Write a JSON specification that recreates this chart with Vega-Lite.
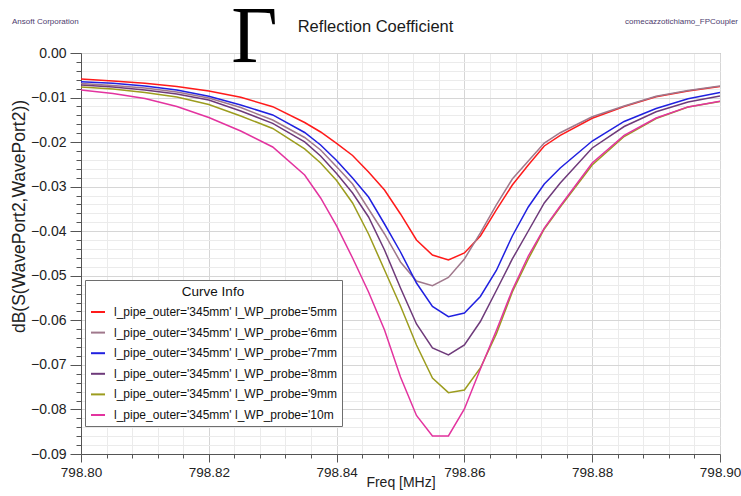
{
  "$schema": "https://vega.github.io/schema/vega-lite/v6.json",
  "autosize": {"type": "none"},
  "padding": {"left": 81, "top": 53, "right": 21, "bottom": 42},
  "width": 639,
  "height": 401,
  "background": "white",
  "config": {
    "view": {"stroke": "#8a8a8a", "strokeWidth": 1},
    "font": "Liberation Sans"
  },
  "resolve": {"axis": {"x": "independent", "y": "independent"}},
  "layer": [
    {
      "data": {
        "values": [
          {"f":798.8,"v":-0.00583,"s":"5mm"},{"f":798.805,"v":-0.00628,"s":"5mm"},{"f":798.81,"v":-0.0068,"s":"5mm"},{"f":798.815,"v":-0.00752,"s":"5mm"},{"f":798.82,"v":-0.00853,"s":"5mm"},{"f":798.825,"v":-0.00994,"s":"5mm"},{"f":798.83,"v":-0.01205,"s":"5mm"},{"f":798.835,"v":-0.0156,"s":"5mm"},{"f":798.8375,"v":-0.01773,"s":"5mm"},{"f":798.84,"v":-0.02027,"s":"5mm"},{"f":798.8425,"v":-0.023,"s":"5mm"},{"f":798.845,"v":-0.0267,"s":"5mm"},{"f":798.8475,"v":-0.03075,"s":"5mm"},{"f":798.85,"v":-0.03613,"s":"5mm"},{"f":798.8525,"v":-0.04196,"s":"5mm"},{"f":798.855,"v":-0.04533,"s":"5mm"},{"f":798.8575,"v":-0.04645,"s":"5mm"},{"f":798.86,"v":-0.04488,"s":"5mm"},{"f":798.8625,"v":-0.04107,"s":"5mm"},{"f":798.865,"v":-0.03523,"s":"5mm"},{"f":798.8675,"v":-0.02962,"s":"5mm"},{"f":798.87,"v":-0.02513,"s":"5mm"},{"f":798.8725,"v":-0.02087,"s":"5mm"},{"f":798.875,"v":-0.01847,"s":"5mm"},{"f":798.88,"v":-0.01465,"s":"5mm"},{"f":798.885,"v":-0.01201,"s":"5mm"},{"f":798.89,"v":-0.00981,"s":"5mm"},{"f":798.895,"v":-0.00853,"s":"5mm"},{"f":798.9,"v":-0.00752,"s":"5mm"},
          {"f":798.8,"v":-0.00684,"s":"6mm"},{"f":798.805,"v":-0.00729,"s":"6mm"},{"f":798.81,"v":-0.00785,"s":"6mm"},{"f":798.815,"v":-0.00875,"s":"6mm"},{"f":798.82,"v":-0.0101,"s":"6mm"},{"f":798.825,"v":-0.01223,"s":"6mm"},{"f":798.83,"v":-0.01504,"s":"6mm"},{"f":798.835,"v":-0.01896,"s":"6mm"},{"f":798.8375,"v":-0.02177,"s":"6mm"},{"f":798.84,"v":-0.02552,"s":"6mm"},{"f":798.8425,"v":-0.0294,"s":"6mm"},{"f":798.845,"v":-0.03501,"s":"6mm"},{"f":798.8475,"v":-0.04062,"s":"6mm"},{"f":798.85,"v":-0.0469,"s":"6mm"},{"f":798.8525,"v":-0.05117,"s":"6mm"},{"f":798.855,"v":-0.05222,"s":"6mm"},{"f":798.8575,"v":-0.05038,"s":"6mm"},{"f":798.86,"v":-0.04623,"s":"6mm"},{"f":798.8625,"v":-0.04039,"s":"6mm"},{"f":798.865,"v":-0.03411,"s":"6mm"},{"f":798.8675,"v":-0.02828,"s":"6mm"},{"f":798.87,"v":-0.02424,"s":"6mm"},{"f":798.8725,"v":-0.0202,"s":"6mm"},{"f":798.875,"v":-0.01789,"s":"6mm"},{"f":798.88,"v":-0.0143,"s":"6mm"},{"f":798.885,"v":-0.0119,"s":"6mm"},{"f":798.89,"v":-0.0097,"s":"6mm"},{"f":798.895,"v":-0.0084,"s":"6mm"},{"f":798.9,"v":-0.0074,"s":"6mm"},
          {"f":798.8,"v":-0.00643,"s":"7mm"},{"f":798.805,"v":-0.0068,"s":"7mm"},{"f":798.81,"v":-0.0074,"s":"7mm"},{"f":798.815,"v":-0.0083,"s":"7mm"},{"f":798.82,"v":-0.00971,"s":"7mm"},{"f":798.825,"v":-0.01167,"s":"7mm"},{"f":798.83,"v":-0.0139,"s":"7mm"},{"f":798.835,"v":-0.01784,"s":"7mm"},{"f":798.8375,"v":-0.02065,"s":"7mm"},{"f":798.84,"v":-0.02413,"s":"7mm"},{"f":798.8425,"v":-0.02806,"s":"7mm"},{"f":798.845,"v":-0.03232,"s":"7mm"},{"f":798.8475,"v":-0.03838,"s":"7mm"},{"f":798.85,"v":-0.04466,"s":"7mm"},{"f":798.8525,"v":-0.05162,"s":"7mm"},{"f":798.855,"v":-0.05689,"s":"7mm"},{"f":798.8575,"v":-0.05918,"s":"7mm"},{"f":798.86,"v":-0.05835,"s":"7mm"},{"f":798.8625,"v":-0.05465,"s":"7mm"},{"f":798.865,"v":-0.04881,"s":"7mm"},{"f":798.8675,"v":-0.04107,"s":"7mm"},{"f":798.87,"v":-0.03456,"s":"7mm"},{"f":798.8725,"v":-0.0294,"s":"7mm"},{"f":798.875,"v":-0.02581,"s":"7mm"},{"f":798.88,"v":-0.01975,"s":"7mm"},{"f":798.885,"v":-0.01537,"s":"7mm"},{"f":798.89,"v":-0.01245,"s":"7mm"},{"f":798.895,"v":-0.01028,"s":"7mm"},{"f":798.9,"v":-0.00886,"s":"7mm"},
          {"f":798.8,"v":-0.00718,"s":"8mm"},{"f":798.805,"v":-0.00763,"s":"8mm"},{"f":798.81,"v":-0.0083,"s":"8mm"},{"f":798.815,"v":-0.0092,"s":"8mm"},{"f":798.82,"v":-0.01055,"s":"8mm"},{"f":798.825,"v":-0.01302,"s":"8mm"},{"f":798.83,"v":-0.01578,"s":"8mm"},{"f":798.835,"v":-0.01997,"s":"8mm"},{"f":798.8375,"v":-0.02312,"s":"8mm"},{"f":798.84,"v":-0.02704,"s":"8mm"},{"f":798.8425,"v":-0.03142,"s":"8mm"},{"f":798.845,"v":-0.0368,"s":"8mm"},{"f":798.8475,"v":-0.04421,"s":"8mm"},{"f":798.85,"v":-0.05274,"s":"8mm"},{"f":798.8525,"v":-0.06082,"s":"8mm"},{"f":798.855,"v":-0.0662,"s":"8mm"},{"f":798.8575,"v":-0.06777,"s":"8mm"},{"f":798.86,"v":-0.06553,"s":"8mm"},{"f":798.8625,"v":-0.06026,"s":"8mm"},{"f":798.865,"v":-0.0533,"s":"8mm"},{"f":798.8675,"v":-0.04623,"s":"8mm"},{"f":798.87,"v":-0.03995,"s":"8mm"},{"f":798.8725,"v":-0.03366,"s":"8mm"},{"f":798.875,"v":-0.02918,"s":"8mm"},{"f":798.88,"v":-0.02132,"s":"8mm"},{"f":798.885,"v":-0.0165,"s":"8mm"},{"f":798.89,"v":-0.0132,"s":"8mm"},{"f":798.895,"v":-0.011,"s":"8mm"},{"f":798.9,"v":-0.00965,"s":"8mm"},
          {"f":798.8,"v":-0.00763,"s":"9mm"},{"f":798.805,"v":-0.00808,"s":"9mm"},{"f":798.81,"v":-0.00886,"s":"9mm"},{"f":798.815,"v":-0.00987,"s":"9mm"},{"f":798.82,"v":-0.01156,"s":"9mm"},{"f":798.825,"v":-0.01414,"s":"9mm"},{"f":798.83,"v":-0.01694,"s":"9mm"},{"f":798.835,"v":-0.02154,"s":"9mm"},{"f":798.8375,"v":-0.02469,"s":"9mm"},{"f":798.84,"v":-0.02861,"s":"9mm"},{"f":798.8425,"v":-0.03366,"s":"9mm"},{"f":798.845,"v":-0.04062,"s":"9mm"},{"f":798.8475,"v":-0.0487,"s":"9mm"},{"f":798.85,"v":-0.05678,"s":"9mm"},{"f":798.8525,"v":-0.06553,"s":"9mm"},{"f":798.855,"v":-0.07294,"s":"9mm"},{"f":798.8575,"v":-0.07623,"s":"9mm"},{"f":798.86,"v":-0.07563,"s":"9mm"},{"f":798.8625,"v":-0.07069,"s":"9mm"},{"f":798.865,"v":-0.06306,"s":"9mm"},{"f":798.8675,"v":-0.05364,"s":"9mm"},{"f":798.87,"v":-0.04623,"s":"9mm"},{"f":798.8725,"v":-0.0395,"s":"9mm"},{"f":798.875,"v":-0.03456,"s":"9mm"},{"f":798.88,"v":-0.02513,"s":"9mm"},{"f":798.885,"v":-0.01874,"s":"9mm"},{"f":798.89,"v":-0.0147,"s":"9mm"},{"f":798.895,"v":-0.01212,"s":"9mm"},{"f":798.9,"v":-0.01088,"s":"9mm"},
          {"f":798.8,"v":-0.0083,"s":"10mm"},{"f":798.805,"v":-0.00909,"s":"10mm"},{"f":798.81,"v":-0.01021,"s":"10mm"},{"f":798.815,"v":-0.01201,"s":"10mm"},{"f":798.82,"v":-0.01448,"s":"10mm"},{"f":798.825,"v":-0.0175,"s":"10mm"},{"f":798.83,"v":-0.02109,"s":"10mm"},{"f":798.835,"v":-0.02738,"s":"10mm"},{"f":798.8375,"v":-0.03254,"s":"10mm"},{"f":798.84,"v":-0.03882,"s":"10mm"},{"f":798.8425,"v":-0.04601,"s":"10mm"},{"f":798.845,"v":-0.05364,"s":"10mm"},{"f":798.8475,"v":-0.06217,"s":"10mm"},{"f":798.85,"v":-0.07271,"s":"10mm"},{"f":798.8525,"v":-0.08135,"s":"10mm"},{"f":798.855,"v":-0.08595,"s":"10mm"},{"f":798.8575,"v":-0.08595,"s":"10mm"},{"f":798.86,"v":-0.07989,"s":"10mm"},{"f":798.8625,"v":-0.07092,"s":"10mm"},{"f":798.865,"v":-0.06228,"s":"10mm"},{"f":798.8675,"v":-0.05319,"s":"10mm"},{"f":798.87,"v":-0.04556,"s":"10mm"},{"f":798.8725,"v":-0.0393,"s":"10mm"},{"f":798.875,"v":-0.03434,"s":"10mm"},{"f":798.88,"v":-0.02469,"s":"10mm"},{"f":798.885,"v":-0.0185,"s":"10mm"},{"f":798.89,"v":-0.0146,"s":"10mm"},{"f":798.895,"v":-0.0121,"s":"10mm"},{"f":798.9,"v":-0.0108,"s":"10mm"}
        ]
      },
      "mark": {"type": "line", "strokeWidth": 1.5, "clip": true},
      "encoding": {
        "x": {
          "field": "f", "type": "quantitative",
          "scale": {"domain": [798.8, 798.9], "nice": false, "zero": false},
          "axis": {
            "orient": "bottom",
            "values": [798.8, 798.804, 798.808, 798.812, 798.816, 798.82, 798.824, 798.828, 798.832, 798.836, 798.84, 798.844, 798.848, 798.852, 798.856, 798.86, 798.864, 798.868, 798.872, 798.876, 798.88, 798.884, 798.888, 798.892, 798.896, 798.9],
            "labelExpr": "abs(datum.value*50 - round(datum.value*50)) < 0.01 ? format(datum.value, '.2f') : ''",
            "labelOverlap": false,
            "labelFlush": false,
            "labelFont": "Liberation Sans",
            "labelFontSize": 13.5,
            "labelColor": "#222222",
            "labelPadding": 3,
            "tickSize": {"condition": {"test": "abs(datum.value*50 - round(datum.value*50)) < 0.01", "value": 8}, "value": 4},
            "tickColor": "#555555",
            "domainColor": "#555555",
            "gridColor": {"condition": {"test": "abs(datum.value*50 - round(datum.value*50)) < 0.01", "value": "#d6d6d6"}, "value": "#ebebeb"},
            "title": "Freq [MHz]",
            "titleFont": "Liberation Sans",
            "titleFontSize": 14,
            "titleFontWeight": "normal",
            "titleColor": "#222222",
            "titlePadding": -3
          }
        },
        "y": {
          "field": "v", "type": "quantitative",
          "scale": {"domain": [-0.09, 0], "nice": false, "zero": false},
          "axis": {
            "orient": "left",
            "values": [0, -0.002, -0.004, -0.006, -0.008, -0.01, -0.012, -0.014, -0.016, -0.018, -0.02, -0.022, -0.024, -0.026, -0.028, -0.03, -0.032, -0.034, -0.036, -0.038, -0.04, -0.042, -0.044, -0.046, -0.048, -0.05, -0.052, -0.054, -0.056, -0.058, -0.06, -0.062, -0.064, -0.066, -0.068, -0.07, -0.072, -0.074, -0.076, -0.078, -0.08, -0.082, -0.084, -0.086, -0.088, -0.09],
            "labelExpr": "abs(datum.value*100 - round(datum.value*100)) < 0.01 ? format(datum.value, '.2f') : ''",
            "labelOverlap": false,
            "labelFlush": false,
            "labelFont": "Liberation Sans",
            "labelFontSize": 14,
            "labelColor": "#222222",
            "labelPadding": 4,
            "tickSize": {"condition": {"test": "abs(datum.value*100 - round(datum.value*100)) < 0.01", "value": 11}, "value": 5},
            "tickColor": "#555555",
            "domainColor": "#555555",
            "gridColor": {"condition": {"test": "abs(datum.value*100 - round(datum.value*100)) < 0.01", "value": "#d6d6d6"}, "value": "#ebebeb"},
            "title": "dB(S(WavePort2,WavePort2))",
            "titleFont": "Liberation Sans",
            "titleFontSize": 17.5,
            "titleFontWeight": "normal",
            "titleColor": "#222222",
            "titleX": -53,
            "titleY": 163,
            "titleAngle": -90,
            "titleAlign": "center",
            "titleBaseline": "bottom"
          }
        },
        "color": {
          "field": "s", "type": "nominal",
          "scale": {
            "domain": ["5mm", "6mm", "7mm", "8mm", "9mm", "10mm"],
            "range": ["#ff1a1a", "#a0788c", "#2020e0", "#6e3a7a", "#9c9c1e", "#e3339f"]
          },
          "legend": {
            "orient": "none",
            "legendX": 4,
            "legendY": 227,
            "title": "Curve Info",
            "titleAnchor": "middle",
            "titleAlign": "center",
            "titleFont": "Liberation Sans",
            "titleFontSize": 13.5,
            "titleFontWeight": "normal",
            "titleColor": "#111111",
            "titlePadding": 5.5,
            "labelExpr": "'l_pipe_outer=\\'345mm\\' l_WP_probe=\\'' + slice(datum.label, 0, 3)",
            "labelFont": "Liberation Sans",
            "labelFontSize": 12,
            "labelColor": "#111111",
            "labelOffset": 8,
            "labelLimit": 0,
            "symbolType": "stroke",
            "symbolStrokeWidth": 2,
            "symbolSize": 196,
            "rowPadding": 6.6,
            "padding": 5,
            "fillColor": "white",
            "strokeColor": "#6e6e6e",
            "cornerRadius": 0
          }
        }
      }
    },
    {
      "data": {"values": [{}]},
      "mark": {"type": "text", "align": "center", "baseline": "alphabetic", "font": "Liberation Serif", "fontSize": 80, "color": "#000000", "text": "Γ"},
      "encoding": {
        "x": {"datum": 798.82715, "type": "quantitative", "axis": null},
        "y": {"datum": -0.00202, "type": "quantitative", "axis": null}
      }
    },
    {
      "data": {"values": [{}]},
      "mark": {"type": "text", "align": "center", "baseline": "middle", "font": "Liberation Sans", "fontSize": 16.5, "color": "#1a1a1a", "text": "Reflection Coefficient"},
      "encoding": {
        "x": {"datum": 798.84609, "type": "quantitative", "axis": null},
        "y": {"datum": 0.005835, "type": "quantitative", "axis": null}
      }
    },
    {
      "data": {"values": [{}]},
      "mark": {"type": "text", "align": "left", "baseline": "middle", "font": "Liberation Sans", "fontSize": 8, "color": "#4d3d6e", "text": "Ansoft Corporation"},
      "encoding": {
        "x": {"datum": 798.789202, "type": "quantitative", "axis": null},
        "y": {"datum": 0.006957, "type": "quantitative", "axis": null}
      }
    },
    {
      "data": {"values": [{}]},
      "mark": {"type": "text", "align": "right", "baseline": "middle", "font": "Liberation Sans", "fontSize": 8, "color": "#4d3d6e", "text": "comecazzotichiamo_FPCoupler"},
      "encoding": {
        "x": {"datum": 798.902817, "type": "quantitative", "axis": null},
        "y": {"datum": 0.006957, "type": "quantitative", "axis": null}
      }
    }
  ]
}
